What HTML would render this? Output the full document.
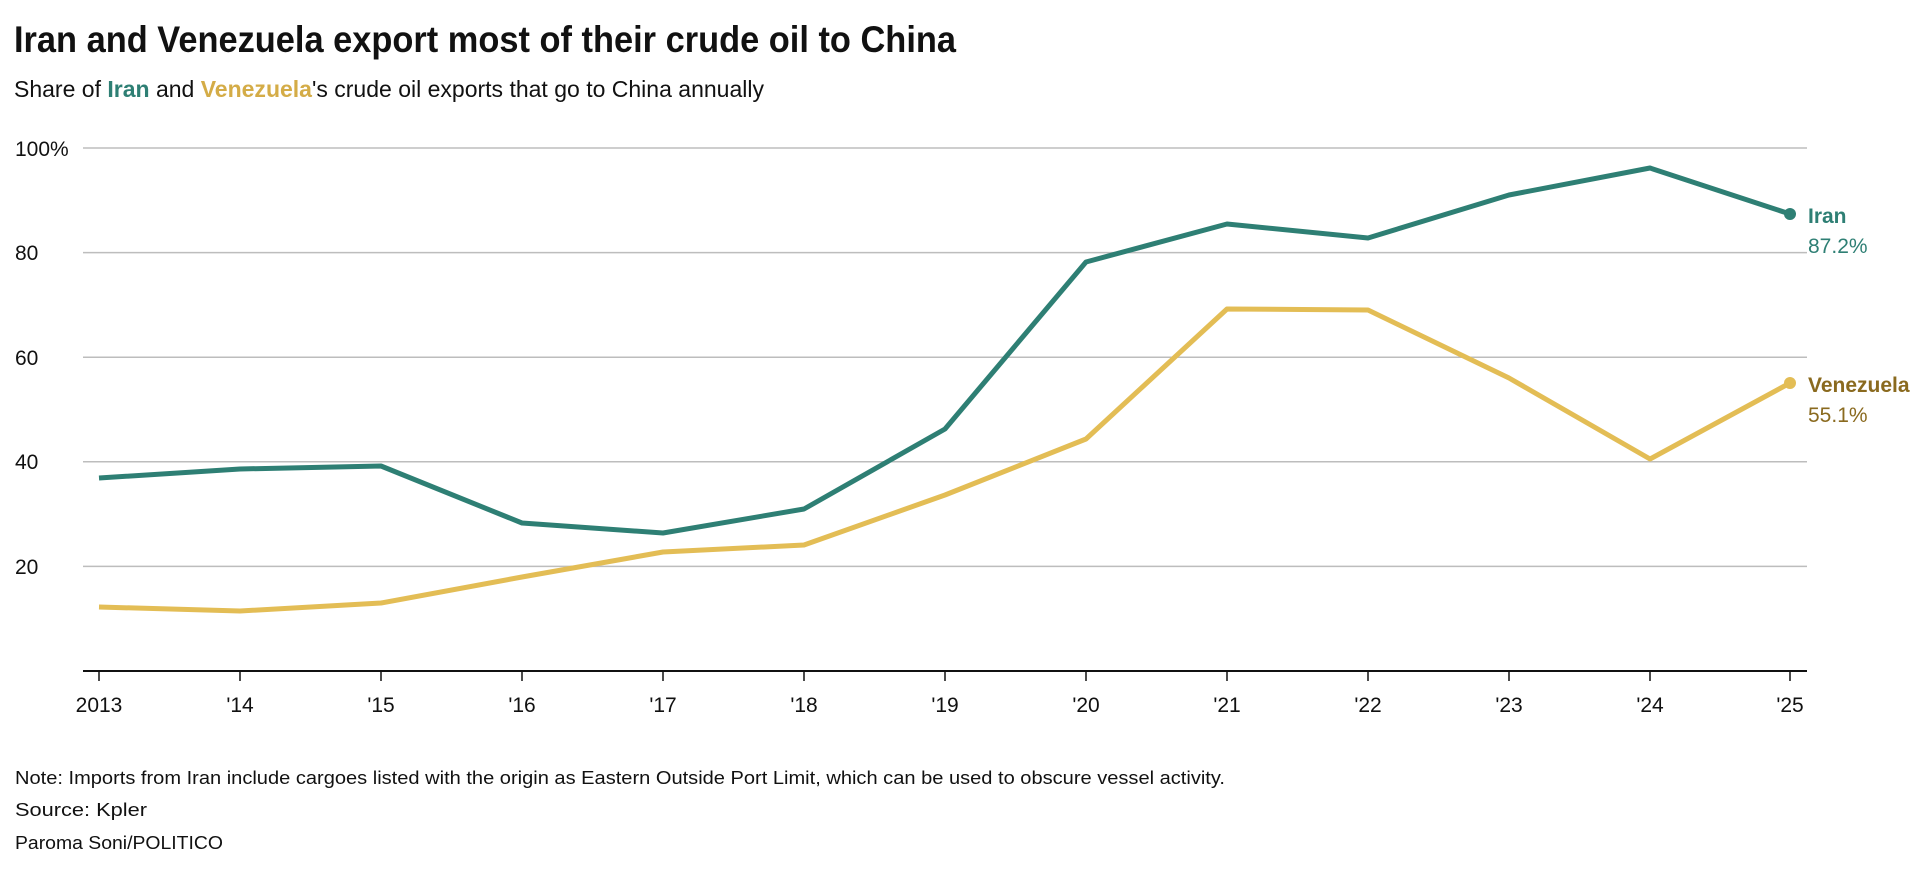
<!DOCTYPE html>
<html><head><meta charset="utf-8"><style>
html,body{margin:0;padding:0;background:#fff;}
svg{display:block;font-family:"Liberation Sans",sans-serif;}
</style></head><body>
<svg width="1920" height="882" viewBox="0 0 1920 882" xmlns="http://www.w3.org/2000/svg">
<text x="14" y="52" font-size="37" font-weight="bold" fill="#111" textLength="942" lengthAdjust="spacingAndGlyphs">Iran and Venezuela export most of their crude oil to China</text>
<text x="14" y="97" font-size="23" fill="#111" textLength="750" lengthAdjust="spacingAndGlyphs">Share of <tspan fill="#2e7f74" font-weight="bold">Iran</tspan> and <tspan fill="#d4ac47" font-weight="bold">Venezuela</tspan>'s crude oil exports that go to China annually</text>
<g stroke="#bdbdbd" stroke-width="1.5">
<line x1="83" x2="1807" y1="148" y2="148"/>
<line x1="83" x2="1807" y1="252.6" y2="252.6"/>
<line x1="83" x2="1807" y1="357.2" y2="357.2"/>
<line x1="83" x2="1807" y1="461.8" y2="461.8"/>
<line x1="83" x2="1807" y1="566.4" y2="566.4"/>
</g>
<g font-size="21" fill="#111">
<text x="15" y="156">100%</text>
<text x="15" y="260">80</text>
<text x="15" y="365">60</text>
<text x="15" y="469">40</text>
<text x="15" y="574">20</text>
</g>
<line x1="83" x2="1807" y1="671" y2="671" stroke="#111" stroke-width="2"/>
<g stroke="#111" stroke-width="1.5">
<line x1="99" x2="99" y1="671" y2="681"/><line x1="240" x2="240" y1="671" y2="681"/><line x1="381" x2="381" y1="671" y2="681"/><line x1="522" x2="522" y1="671" y2="681"/><line x1="663" x2="663" y1="671" y2="681"/><line x1="804" x2="804" y1="671" y2="681"/><line x1="945" x2="945" y1="671" y2="681"/><line x1="1086" x2="1086" y1="671" y2="681"/><line x1="1227" x2="1227" y1="671" y2="681"/><line x1="1368" x2="1368" y1="671" y2="681"/><line x1="1509" x2="1509" y1="671" y2="681"/><line x1="1650" x2="1650" y1="671" y2="681"/><line x1="1790" x2="1790" y1="671" y2="681"/>
</g>
<g font-size="21" fill="#111" text-anchor="middle">
<text x="99" y="712">2013</text><text x="240" y="712">'14</text><text x="381" y="712">'15</text><text x="522" y="712">'16</text><text x="663" y="712">'17</text><text x="804" y="712">'18</text><text x="945" y="712">'19</text><text x="1086" y="712">'20</text><text x="1227" y="712">'21</text><text x="1368" y="712">'22</text><text x="1509" y="712">'23</text><text x="1650" y="712">'24</text><text x="1790" y="712">'25</text>
</g>
<polyline fill="none" stroke="#e3bd55" stroke-width="5" stroke-linejoin="round" points="99,607 240,611 381,603 522,577 663,552 804,545 945,495 1086,439 1227,309 1368,310 1509,378 1650,459 1790,383"/>
<polyline fill="none" stroke="#2e7f74" stroke-width="5" stroke-linejoin="round" points="99,478 240,469 381,466 522,523 663,533 804,509 945,429 1086,262 1227,224 1368,238 1509,195 1650,168 1790,214"/>
<circle cx="1790" cy="214" r="6" fill="#2e7f74"/>
<circle cx="1790" cy="383" r="6" fill="#e3bd55"/>
<text x="1808" y="223" font-size="21" font-weight="bold" fill="#2e7f74">Iran</text>
<text x="1808" y="253" font-size="21" fill="#2e7f74">87.2%</text>
<text x="1808" y="392" font-size="21" font-weight="bold" fill="#8a6a1f">Venezuela</text>
<text x="1808" y="422" font-size="21" fill="#8a6a1f">55.1%</text>
<g font-size="18.5" fill="#111">
<text x="15" y="784" textLength="1210" lengthAdjust="spacingAndGlyphs">Note: Imports from Iran include cargoes listed with the origin as Eastern Outside Port Limit, which can be used to obscure vessel activity.</text>
<text x="15" y="816" textLength="132" lengthAdjust="spacingAndGlyphs">Source: Kpler</text>
<text x="15" y="849" textLength="208" lengthAdjust="spacingAndGlyphs">Paroma Soni/POLITICO</text>
</g>
</svg>
</body></html>
